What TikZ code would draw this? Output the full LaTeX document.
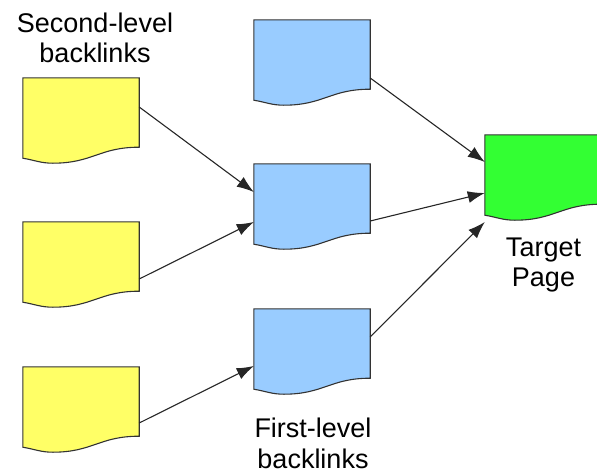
\documentclass[tikz,border=0pt]{standalone}
\usepackage{fontspec}
\setmainfont{Liberation Sans}
\usetikzlibrary{arrows.meta,calc}
\definecolor{cYellow}{RGB}{255,255,102}
\definecolor{cBlue}{RGB}{153,204,255}
\definecolor{cGreen}{RGB}{51,255,51}
\definecolor{cLine}{RGB}{51,51,51}
\tikzset{
    docbox/.style={rectangle, minimum width=116pt, minimum height=69pt, inner sep=0pt},
    doclabel/.style={anchor=north, align=center, inner sep=0pt, font=\fontsize{27}{30.5}\selectfont},
    link/.style={-{Latex[length=17pt,width=12pt]}, line width=1.1pt, black!85},
}
\begin{document}
\begin{tikzpicture}[x=1pt,y=-1pt]
        \useasboundingbox (0,0) rectangle (597,474);
        \node[docbox] (s1) at (81,112.5) {};
        \node[docbox] (s2) at (81,256.5) {};
        \node[docbox] (s3) at (81,401.5) {};
        \node[docbox] (f1) at (312,54.5) {};
        \node[docbox] (f2) at (312,198.5) {};
        \node[docbox] (f3) at (312,343.5) {};
        \node[docbox] (t) at (543,169.5) {};
        
        \foreach \d/\c in {s1/cYellow,s2/cYellow,s3/cYellow,f1/cBlue,f2/cBlue,f3/cBlue,t/cGreen}
            \draw[line width=1.1pt, draw=cLine, fill=\c] (\d.north west) -- (\d.north east) -- (\d.south east)
                .. controls +(-40pt,0pt) and +(40pt,0pt) .. ($(\d.south west)+(30pt,-16pt)$)
                .. controls +(-12pt,0pt) and +(12pt,-2pt) .. ($(\d.south west)+(0pt,-11pt)$) -- cycle;
        
        \draw[link] ([yshift=5.5pt]s1.east) -- ([yshift=6.5pt]f2.west);
        \draw[link] ([yshift=-22.5pt]s2.east) -- ([yshift=-23.5pt]f2.west);
        \draw[link] ([yshift=-21.5pt]s3.east) -- ([yshift=-22.5pt]f3.west);
        \draw[link] ([yshift=-23.5pt]f1.east) -- ([yshift=7.5pt]t.west);
        \draw[link] ([yshift=-22.5pt]f2.east) -- ([yshift=-23.5pt]t.west);
        \draw[link] ([yshift=6.5pt]f3.east) -- ([yshift=-52.5pt]t.west);
        
        \node[doclabel] (lsecond) at (95,12.5) {Second-level\\backlinks};
        \node[doclabel] (lfirst) at (313,418) {First-level\\backlinks};
        \node[doclabel] (ltarget) at (543.5,237.5) {Target\\Page};
    \end{tikzpicture}
\end{document}
